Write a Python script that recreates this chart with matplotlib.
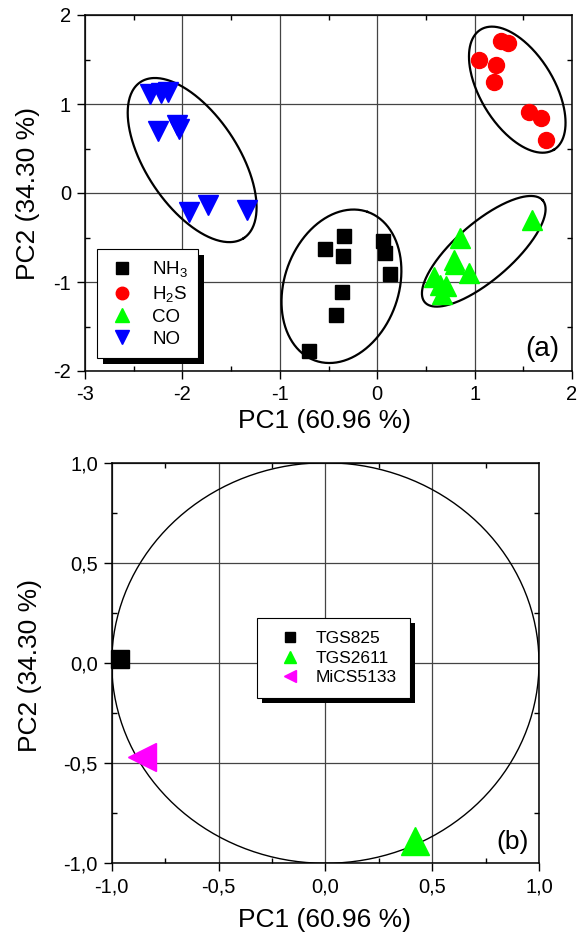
import numpy as np
import matplotlib
matplotlib.use('Agg')
import matplotlib.pyplot as plt
from matplotlib.ticker import MultipleLocator, FuncFormatter
from matplotlib.patches import Rectangle
from matplotlib.lines import Line2D

plt.rcParams['font.family'] = ['Liberation Sans', 'DejaVu Sans']
plt.rcParams['mathtext.default'] = 'regular'
plt.rcParams['axes.unicode_minus'] = False

# ---------------- data: panel (a) PCA scores ----------------
gas_labels = ['NH$_3$', 'H$_2$S', 'CO', 'NO']
nh3_x = [-0.54, -0.34, -0.35, 0.06, 0.08, 0.13, -0.36, -0.42, -0.70]
nh3_y = [-0.63, -0.48, -0.71, -0.54, -0.67, -0.91, -1.11, -1.37, -1.77]
h2s_x = [1.05, 1.27, 1.34, 1.22, 1.20, 1.56, 1.68, 1.73]
h2s_y = [1.49, 1.71, 1.68, 1.44, 1.25, 0.915, 0.84, 0.59]
co_x = [1.59, 0.85, 0.79, 0.80, 0.94, 0.58, 0.64, 0.71, 0.67]
co_y = [-0.30, -0.51, -0.75, -0.80, -0.90, -0.94, -1.03, -1.05, -1.13]
no_x = [-2.33, -2.22, -2.15, -2.25, -2.06, -2.03, -1.93, -1.74, -1.34]
no_y = [1.11, 1.12, 1.14, 0.70, 0.76, 0.72, -0.21, -0.14, -0.19]

# cluster ellipses: centre, conjugate semi-axis vectors (data units)
ell_centers = [(-0.367, -1.048), (1.438, 1.161), (1.094, -0.655), (-1.90, 0.37)]
ell_u = [(0.268, 0.836), (0.376, -0.675), (0.605, 0.573), (0.530, -0.877)]
ell_v = [(0.554, -0.211), (-0.323, -0.215), (0.192, -0.241), (-0.396, -0.285)]

# ---------------- data: panel (b) loadings ----------------
sensors = ['TGS825', 'TGS2611', 'MiCS5133']
load_x = [-0.96, 0.42, -0.86]
load_y = [0.02, -0.89, -0.47]

xlabel = 'PC1 (60.96 %)'
ylabel = 'PC2 (34.30 %)'

fig = plt.figure(figsize=(5.79, 9.35), dpi=100)
W, H = 579, 935

def ax_at(x0, y0, x1, y1):
    return fig.add_axes([x0 / W, 1 - y1 / H, (x1 - x0) / W, (y1 - y0) / H])

ax1 = ax_at(85, 15, 572, 371)
ax2 = ax_at(111.7, 462.7, 539, 863.3)

def style(ax, major, minor):
    ax.xaxis.set_major_locator(MultipleLocator(major))
    ax.yaxis.set_major_locator(MultipleLocator(major))
    ax.xaxis.set_minor_locator(MultipleLocator(minor))
    ax.yaxis.set_minor_locator(MultipleLocator(minor))
    ax.grid(True, which='major', color='#444444', linewidth=0.9)
    ax.set_axisbelow(True)
    ax.tick_params(which='major', direction='out', length=6, width=1,
                   labelsize=14.5, top=False, right=False, pad=4)
    ax.tick_params(which='minor', direction='in', length=3.5, width=1,
                   top=True, right=True, bottom=True, left=True)
    for s in ax.spines.values():
        s.set_linewidth(1.1)
        s.set_color('black')

# ---------------- panel (a) ----------------
style(ax1, 1, 0.5)
ax1.set_xlim(-3, 2)
ax1.set_ylim(-2, 2)
ax1.xaxis.set_major_formatter(FuncFormatter(lambda v, p: f'{v:.0f}'))
ax1.yaxis.set_major_formatter(FuncFormatter(lambda v, p: f'{v:.0f}'))

t = np.linspace(0, 2 * np.pi, 300)
for c, u, v in zip(ell_centers, ell_u, ell_v):
    ex = c[0] + u[0] * np.cos(t) + v[0] * np.sin(t)
    ey = c[1] + u[1] * np.cos(t) + v[1] * np.sin(t)
    ax1.plot(ex, ey, color='black', linewidth=1.6, zorder=2)

ax1.plot(nh3_x, nh3_y, 's', color='black', markersize=10.5, linestyle='none', zorder=3)
ax1.plot(h2s_x, h2s_y, 'o', color='#FF0000', markersize=11.5, linestyle='none', zorder=3)
ax1.plot(co_x, co_y, '^', color='#00FF00', markersize=14.5, linestyle='none', zorder=3)
ax1.plot(no_x, no_y, 'v', color='#0000FF', markersize=15, linestyle='none', zorder=3)

h1 = [Line2D([], [], marker='s', color='black', linestyle='none', markersize=8),
      Line2D([], [], marker='o', color='#FF0000', linestyle='none', markersize=9),
      Line2D([], [], marker='^', color='#00FF00', linestyle='none', markersize=10),
      Line2D([], [], marker='v', color='#0000FF', linestyle='none', markersize=10)]
leg1 = ax1.legend(h1, gas_labels, loc='lower left', bbox_to_anchor=(0.024, 0.0365),
                  borderaxespad=0, fancybox=False, edgecolor='black', fontsize=13.5,
                  handlelength=1.6, handletextpad=0.8, labelspacing=0.25,
                  borderpad=0.55, framealpha=1)
leg1.get_frame().set_linewidth(0.8)
ax1.text(0.94, 0.062, '(a)', transform=ax1.transAxes, fontsize=20,
         ha='center', va='center')

fig.text(325 / W, 1 - 421 / H, xlabel, fontsize=19, ha='center', va='center')
fig.text(28 / W, 1 - 193 / H, ylabel, fontsize=19, ha='center', va='center', rotation=90)

# ---------------- panel (b) ----------------
style(ax2, 0.5, 0.25)
ax2.set_xlim(-1, 1)
ax2.set_ylim(-1, 1)
fmt = FuncFormatter(lambda v, p: f'{v:.1f}'.replace('.', ','))
ax2.xaxis.set_major_formatter(fmt)
ax2.yaxis.set_major_formatter(fmt)

ax2.plot(np.cos(t), np.sin(t), color='black', linewidth=1.0, zorder=2)
ax2.plot(load_x[0], load_y[0], 's', color='black', markersize=13, zorder=3, clip_on=False)
ax2.plot(load_x[1], load_y[1], '^', color='#00FF00', markersize=19.5, zorder=3, clip_on=False)
ax2.plot(load_x[2], load_y[2], '<', color='#FF00FF', markersize=19.5, zorder=3, clip_on=False)

h2 = [Line2D([], [], marker='s', color='black', linestyle='none', markersize=7),
      Line2D([], [], marker='^', color='#00FF00', linestyle='none', markersize=8.5),
      Line2D([], [], marker='<', color='#FF00FF', linestyle='none', markersize=8.5)]
leg2 = ax2.legend(h2, sensors, loc='lower left', bbox_to_anchor=(0.339, 0.412),
                  borderaxespad=0, fancybox=False, edgecolor='black', fontsize=12.5,
                  handlelength=2.3, handletextpad=0.35, labelspacing=0.25,
                  borderpad=0.75, framealpha=1)
leg2.get_frame().set_linewidth(0.8)
ax2.text(0.937, 0.052, '(b)', transform=ax2.transAxes, fontsize=19,
         ha='center', va='center')

fig.text(325 / W, 1 - 920 / H, xlabel, fontsize=19, ha='center', va='center')
fig.text(30 / W, 1 - 665 / H, ylabel, fontsize=19, ha='center', va='center', rotation=90)

# legend drop shadows
fig.canvas.draw()
inv = fig.transFigure.inverted()
for ax, leg, off in [(ax1, leg1, 6), (ax2, leg2, 5)]:
    bb = leg.get_window_extent()
    (x0, y0), (x1, y1) = inv.transform([[bb.x0 + off, bb.y0 - off], [bb.x1 + off, bb.y1 - off]])
    ax.add_patch(Rectangle((x0, y0), x1 - x0, y1 - y0, transform=fig.transFigure,
                           facecolor='black', edgecolor='none', zorder=4.5, clip_on=False))

fig.savefig('out.png', dpi=100)
